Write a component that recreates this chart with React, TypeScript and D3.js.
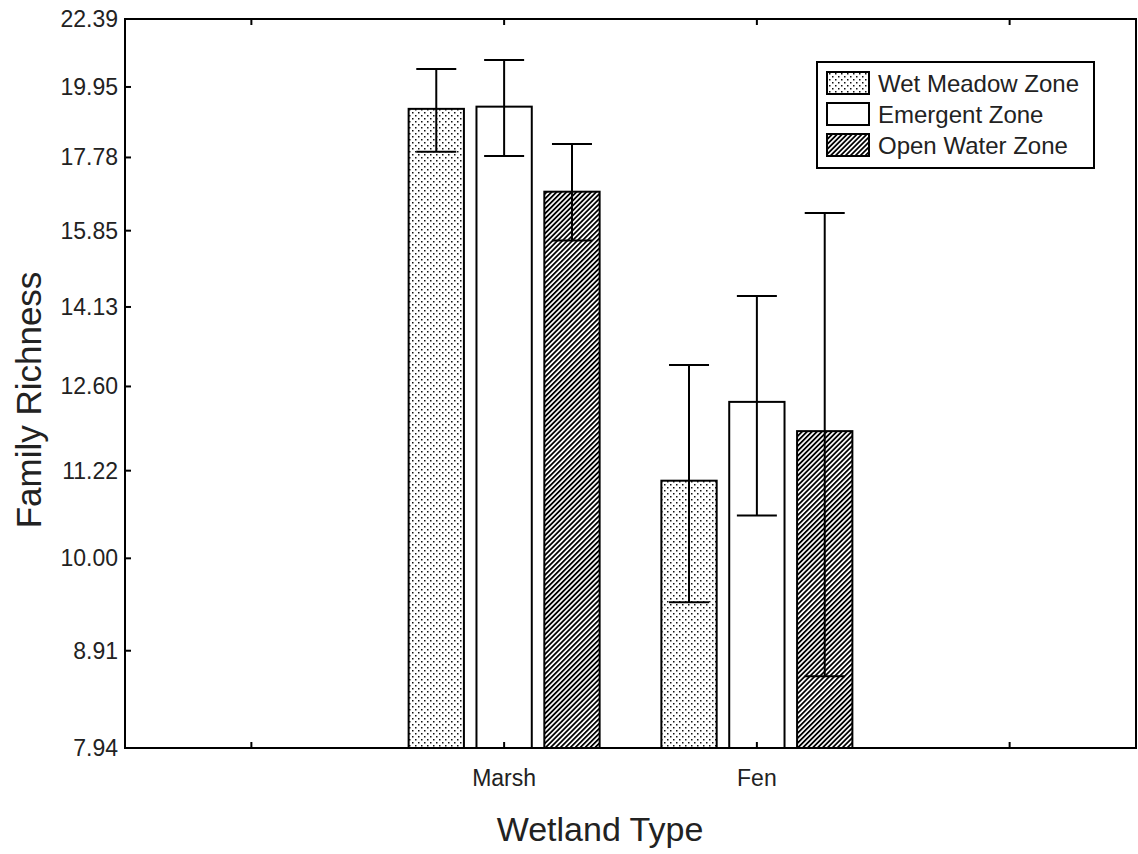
import React from "react";
import * as d3 from "d3";

// ---- data ----
const slotLabels = ["", "Marsh", "Fen", ""];
const wetlandTypes = ["Marsh", "Fen"];
const zones = ["Wet Meadow Zone", "Emergent Zone", "Open Water Zone"];

const wetMeadowMean = [19.24, 11.07];
const wetMeadowLow = [17.94, 9.46];
const wetMeadowHigh = [20.56, 12.99];

const emergentMean = [19.31, 12.33];
const emergentLow = [17.82, 10.57];
const emergentHigh = [20.87, 14.36];

const openWaterMean = [16.84, 11.84];
const openWaterLow = [15.61, 8.64];
const openWaterHigh = [18.17, 16.29];

const yTicks = [7.94, 8.91, 10.0, 11.22, 12.6, 14.13, 15.85, 17.78, 19.95, 22.39];

const series = [
  { name: zones[0], mean: wetMeadowMean, low: wetMeadowLow, high: wetMeadowHigh, fill: "url(#dots)" },
  { name: zones[1], mean: emergentMean, low: emergentLow, high: emergentHigh, fill: "#ffffff" },
  { name: zones[2], mean: openWaterMean, low: openWaterLow, high: openWaterHigh, fill: "url(#hatch)" },
];

const W = 1138;
const H = 854;
const M = { left: 125, right: 1136, top: 19, bottom: 748 };
const FONT = "'Liberation Sans', Arial, Helvetica, sans-serif";
const TXT = "#222";

export default function App() {
  const x = d3
    .scaleBand<number>()
    .domain(d3.range(slotLabels.length))
    .range([M.left, M.right])
    .paddingInner(0)
    .paddingOuter(0);

  const yInner = d3
    .scaleLog()
    .domain([Math.log10(yTicks[0]), Math.log10(yTicks[yTicks.length - 1])])
    .range([M.bottom, M.top]);
  const y = (v: number) => yInner(Math.log10(v));

  const groupW = 191;
  const inner = d3
    .scaleBand<string>()
    .domain(zones)
    .range([-groupW / 2, groupW / 2])
    .paddingInner(0.185)
    .paddingOuter(0);

  const slotCenter = (i: number) => (x(i) as number) + x.bandwidth() / 2;

  return (
    <svg
      width={W}
      height={H}
      style={{ position: "absolute", left: 0, top: 0, background: "#fff" }}
      fontFamily={FONT}
    >
      <defs>
        <pattern id="dots" width="6" height="6" patternUnits="userSpaceOnUse">
          <rect width="6" height="6" fill="#fff" />
          <rect x="1" y="1" width="1.5" height="1.5" fill="#111" />
          <rect x="4" y="4" width="1.5" height="1.5" fill="#111" />
        </pattern>
        <pattern
          id="hatch"
          width="3.5"
          height="3.5"
          patternUnits="userSpaceOnUse"
          patternTransform="rotate(45)"
        >
          <rect width="3.5" height="3.5" fill="#fff" />
          <rect x="0" y="0" width="1.8" height="3.5" fill="#000" />
        </pattern>
      </defs>
      <rect x={0} y={0} width={W} height={H} fill="#fff" />

      {/* bars */}
      {wetlandTypes.map((wt, gi) => {
        const cx = slotCenter(slotLabels.indexOf(wt));
        return series.map((s) => {
          const bx = cx + (inner(s.name) as number);
          const bw = inner.bandwidth();
          const top = y(s.mean[gi]);
          return (
            <rect
              key={wt + s.name}
              x={bx}
              y={top}
              width={bw}
              height={M.bottom - top}
              fill={s.fill}
              stroke="#000"
              strokeWidth={2}
            />
          );
        });
      })}

      {/* error bars */}
      {wetlandTypes.map((wt, gi) => {
        const cx = slotCenter(slotLabels.indexOf(wt));
        return series.map((s) => {
          const ex = cx + (inner(s.name) as number) + inner.bandwidth() / 2;
          const yl = y(s.low[gi]);
          const yh = y(s.high[gi]);
          return (
            <g key={"e" + wt + s.name} stroke="#000" strokeWidth={2}>
              <line x1={ex} x2={ex} y1={yh} y2={yl} />
              <line x1={ex - 20} x2={ex + 20} y1={yh} y2={yh} />
              <line x1={ex - 20} x2={ex + 20} y1={yl} y2={yl} />
            </g>
          );
        });
      })}

      {/* frame */}
      <rect
        x={M.left}
        y={M.top}
        width={M.right - M.left}
        height={M.bottom - M.top}
        fill="none"
        stroke="#000"
        strokeWidth={2}
      />

      {/* y ticks */}
      {yTicks.map((t) => (
        <g key={"y" + t}>
          <line x1={M.left} x2={M.left + 6} y1={y(t)} y2={y(t)} stroke="#000" strokeWidth={2} />
          <text
            x={M.left - 7}
            y={y(t)}
            textAnchor="end"
            dominantBaseline="central"
            fontSize={23}
            fill={TXT}
          >
            {t.toFixed(2)}
          </text>
        </g>
      ))}

      {/* x ticks */}
      {slotLabels.map((lab, i) => (
        <g key={"x" + i}>
          <line
            x1={slotCenter(i)}
            x2={slotCenter(i)}
            y1={M.bottom}
            y2={M.bottom - 6}
            stroke="#000"
            strokeWidth={2}
          />
          <line
            x1={slotCenter(i)}
            x2={slotCenter(i)}
            y1={M.top}
            y2={M.top + 6}
            stroke="#000"
            strokeWidth={2}
          />
          {lab && (
            <text
              x={slotCenter(i)}
              y={778}
              textAnchor="middle"
              dominantBaseline="central"
              fontSize={23}
              fill={TXT}
            >
              {lab}
            </text>
          )}
        </g>
      ))}

      {/* axis titles */}
      <text x={600} y={829} textAnchor="middle" dominantBaseline="central" fontSize={34} fill={TXT}>
        Wetland Type
      </text>
      <text
        transform="translate(28,400) rotate(-90)"
        textAnchor="middle"
        dominantBaseline="central"
        fontSize={35}
        fill={TXT}
      >
        Family Richness
      </text>

      {/* legend */}
      <g>
        <rect x={817} y={62} width={277} height={106} fill="#fff" stroke="#000" strokeWidth={2} />
        {series.map((s, i) => {
          const cy = 83 + i * 31;
          return (
            <g key={"lg" + s.name}>
              <rect x={827} y={cy - 11} width={42} height={22} fill={s.fill} stroke="#000" strokeWidth={2} />
              <text x={878} y={cy} dominantBaseline="central" fontSize={24} fill={TXT}>
                {s.name}
              </text>
            </g>
          );
        })}
      </g>
    </svg>
  );
}
